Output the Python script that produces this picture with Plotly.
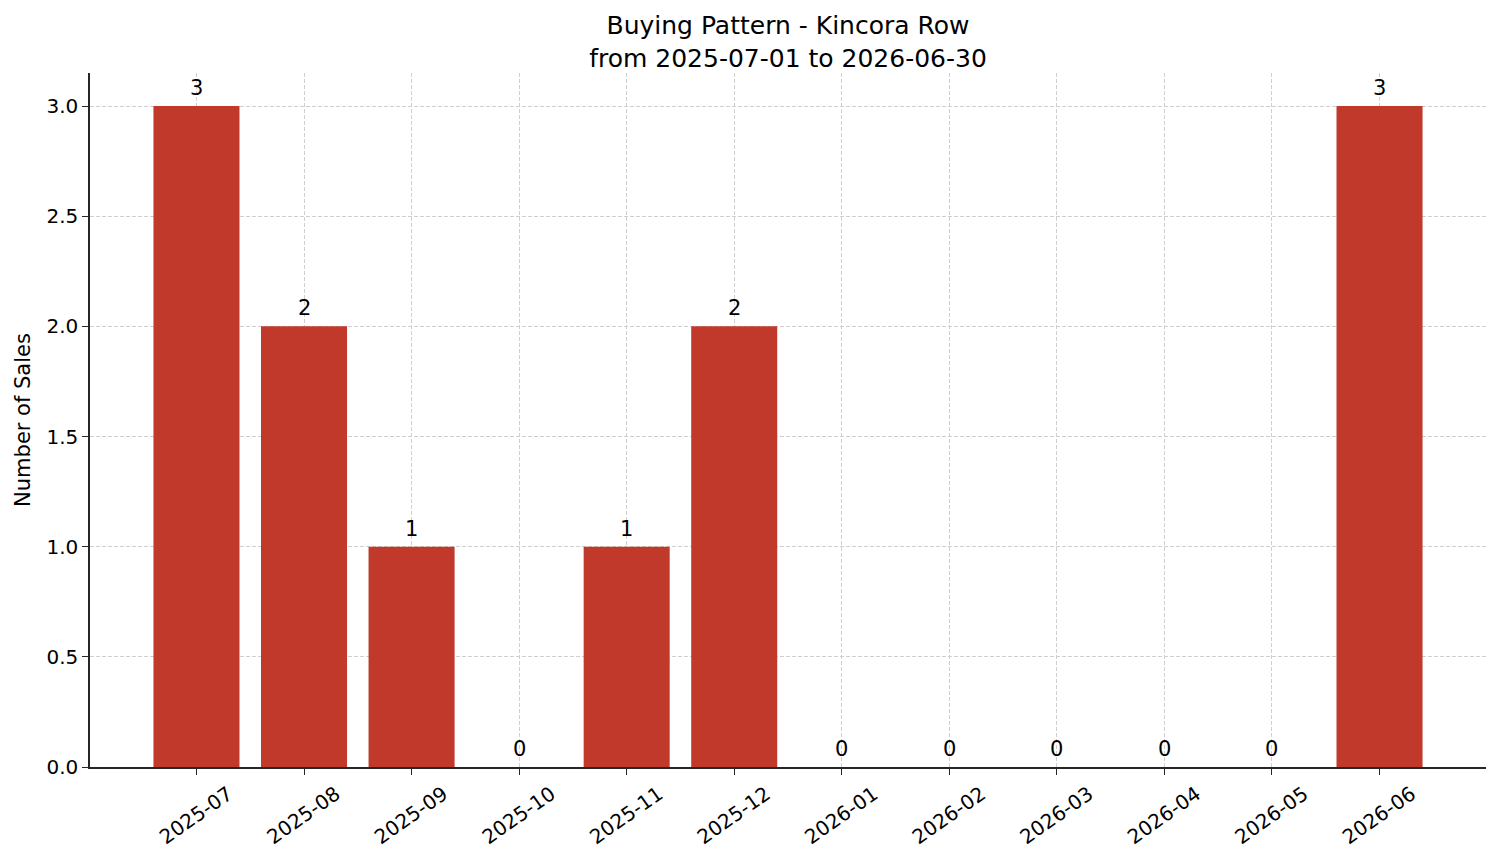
import plotly.graph_objects as go

months = ["2025-07", "2025-08", "2025-09", "2025-10", "2025-11", "2025-12",
          "2026-01", "2026-02", "2026-03", "2026-04", "2026-05", "2026-06"]
sales = [3, 2, 1, 0, 1, 2, 0, 0, 0, 0, 0, 3]
y_ticks = [0.0, 0.5, 1.0, 1.5, 2.0, 2.5, 3.0]
y_tick_text = ["0.0", "0.5", "1.0", "1.5", "2.0", "2.5", "3.0"]

FONT = "DejaVu Sans"
pos = list(range(len(months)))

fig = go.Figure()
fig.add_trace(go.Bar(x=pos, y=sales, width=0.8, marker_color="#c0392b",
                     marker_line_width=0, showlegend=False))

for p, v in zip(pos, sales):
    fig.add_annotation(x=p, y=v, text=str(v), showarrow=False, yanchor="bottom",
                       yshift=4, font=dict(family=FONT, size=21, color="black"))

axis_common = dict(showline=True, linecolor="#262626", linewidth=1.5, mirror=False,
                   ticks="outside", ticklen=6, tickwidth=1.3, tickcolor="#262626",
                   showgrid=True, gridcolor="#cfcfcf", griddash="4px,2px", gridwidth=0.8,
                   zeroline=False, layer="above traces",
                   tickfont=dict(family=FONT, size=20, color="black"))

fig.update_layout(
    width=1501, height=863,
    margin=dict(l=90, r=15, t=73, b=96),
    paper_bgcolor="white", plot_bgcolor="white",
    title=dict(text="Buying Pattern - Kincora Row<br>from 2025-07-01 to 2026-06-30",
               x=0.5, xanchor="center", xref="paper", y=1 - 34 / 863, yanchor="middle",
               yref="container",
               font=dict(family=FONT, size=25, color="black")),
    xaxis=dict(range=[-0.99, 11.99], tickvals=pos, ticktext=months, tickangle=-35,
               ticklabelshift=32, **axis_common),
    yaxis=dict(range=[0, 3.15], tickvals=y_ticks, ticktext=y_tick_text,
               title=dict(text="Number of Sales", font=dict(family=FONT, size=21, color="black"),
                          standoff=10),
               **axis_common),
    font=dict(family=FONT, color="black"),
)

fig.write_html("out.html")
